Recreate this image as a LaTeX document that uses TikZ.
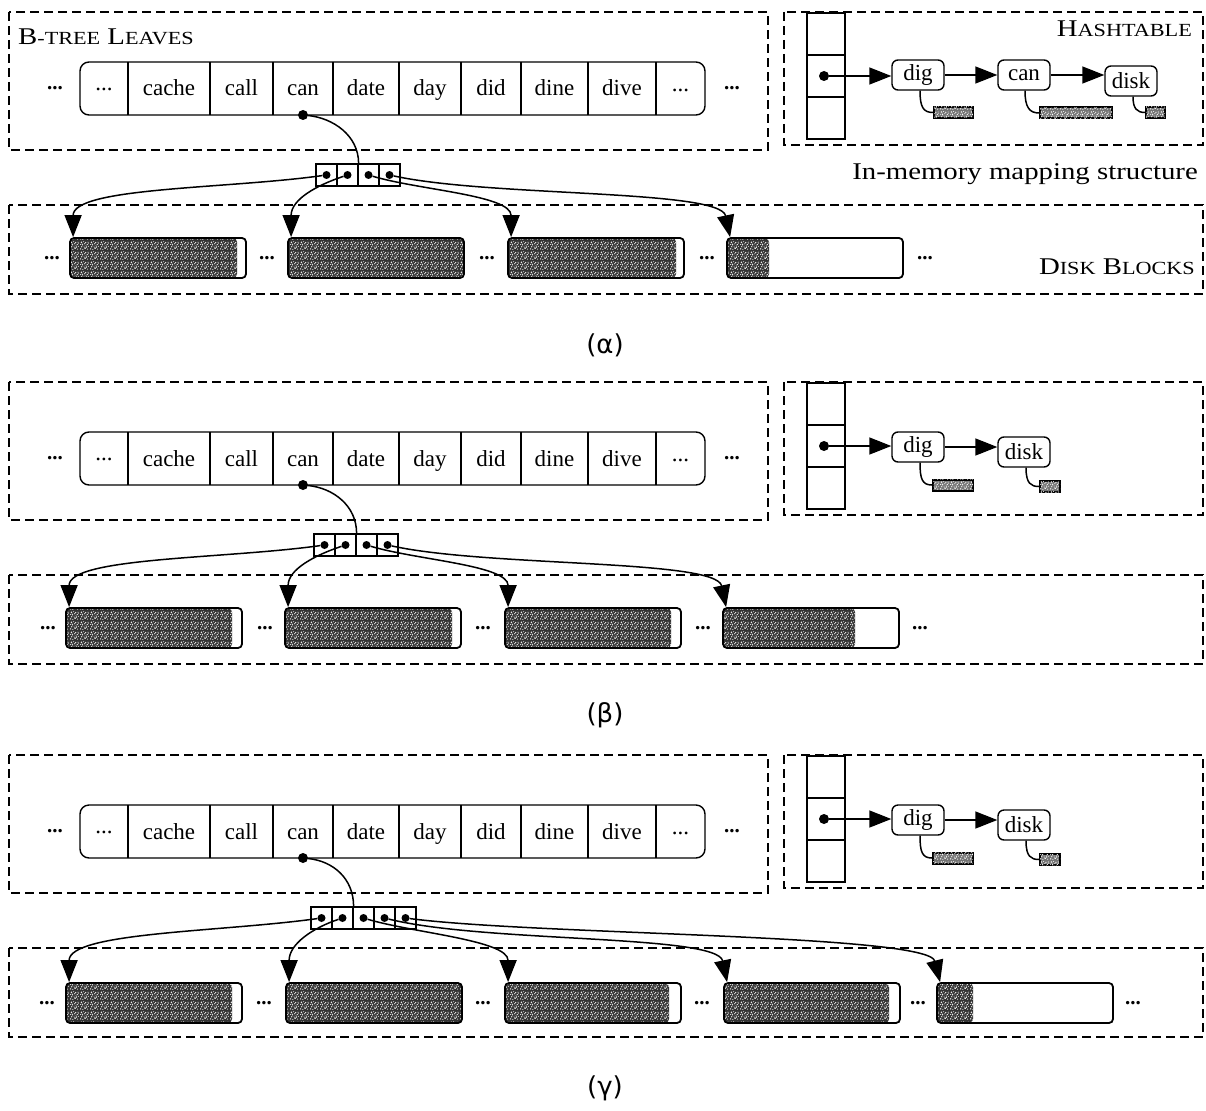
\documentclass[tikz,border=0pt]{standalone}
\usepackage{fontspec}
\setmainfont{Liberation Serif}
\newfontfamily\widefont{Liberation Serif}[FakeStretch=1.2]
\newfontfamily\captfont{DejaVu Sans}
\usetikzlibrary{arrows.meta,patterns}

% speckle texture for the written parts of a block
\newcommand{\gr}[3]{\pgfpathcircle{\pgfqpoint{#1pt}{#2pt}}{#3pt}}
\pgfdeclarepatternformonly{grain}{\pgfpointorigin}{\pgfqpoint{10pt}{10pt}}{\pgfqpoint{10pt}{10pt}}{%
  \gr{0.8}{1.2}{0.7}\gr{3.1}{0.5}{0.6}\gr{5.6}{1.8}{0.8}\gr{8.2}{0.9}{0.6}
  \gr{1.9}{3.4}{0.7}\gr{4.4}{4.1}{0.5}\gr{7.0}{3.2}{0.8}\gr{9.2}{4.0}{0.5}
  \gr{0.7}{6.0}{0.6}\gr{2.8}{5.6}{0.8}\gr{5.2}{6.7}{0.6}\gr{7.9}{5.9}{0.7}
  \gr{1.5}{8.4}{0.8}\gr{3.9}{8.9}{0.5}\gr{6.3}{8.1}{0.7}\gr{8.8}{8.4}{0.6}
  \gr{4.6}{2.4}{0.4}\gr{6.6}{4.9}{0.4}\gr{2.3}{7.2}{0.4}\gr{9.3}{6.8}{0.4}
  \pgfusepath{fill}}

\newcommand{\fsc}[1]{{\fontsize{18.5}{20}\selectfont #1}}
\newcommand{\wordfont}{\fontsize{23}{26}\selectfont}

\tikzset{
  region/.style={draw, dash pattern=on 9pt off 5pt, line width=2.1pt},
  rowline/.style={line width=1.4pt},
  word/.style={font=\wordfont, inner sep=0pt},
  gap/.style={font=\bfseries\fontsize{21}{21}\selectfont, inner sep=0pt},
  title/.style={font=\widefont\fontsize{24}{28}\selectfont, inner sep=0pt},
  capt/.style={font=\captfont\fontsize{26}{30}\selectfont, inner sep=0pt},
  ptr/.style={draw, line width=1.2pt, minimum width=21pt, minimum height=22pt, inner sep=0pt},
  dot/.style={circle, fill, inner sep=0pt, minimum size=9pt},
  hcell/.style={draw, line width=1.4pt, minimum width=38pt, minimum height=42pt, inner sep=0pt},
  key/.style={draw, line width=1.4pt, rounded corners=6pt, font=\wordfont,
    minimum height=30pt, minimum width=52pt, inner sep=1pt},
  val/.style={draw, line width=2pt, minimum height=11pt, inner sep=0pt, fill=black!55,
    postaction={pattern=grain, pattern color=white}},
  wire/.style={line width=1.5pt},
  link/.style={wire, -{Triangle[length=22pt,width=17pt]}},
  block/.style={draw, line width=1.8pt, rounded corners=4pt, minimum width=176pt,
    minimum height=40pt, inner sep=0pt,
    path picture={
      \fill[black!80] (path picture bounding box.north west) rectangle
        ([xshift=#1]path picture bounding box.south west);
      \fill[pattern=grain, pattern color=white] (path picture bounding box.north west) rectangle
        ([xshift=#1]path picture bounding box.south west);}},
}

% boxes, leaf row and hash column common to all three panels
\newcommand{\panelframe}[1]{%
  \draw[region] (9,12) rectangle (768,150);
  \draw[region] (784,12) rectangle (1203,145);
  \draw[region] (9,205) rectangle (1203,294);
  \draw[rowline, rounded corners=9pt] (80,62) rectangle (705,115);
  \foreach \a in {128,210,273,333,399,461,521,588,656}
    \draw[rowline] (\a,62) -- (\a,115);
  \foreach \x/\w [count=\i] in {169/cache,241.5/call,303/can,366/date,430/day,491/did,554.5/dine,622/dive}
    \node[word, anchor=base] (#1-w\i) at (\x,96) {\w};
  \node[word] (#1-wl) at (104,89) {...};
  \node[word] (#1-wr) at (680.5,90) {...};
  \node[gap] (#1-gl) at (55,88) {...};
  \node[gap] (#1-gr) at (732,88) {...};
  \node[dot, minimum size=10pt] (#1-key) at (303,115) {};
  \foreach \y [count=\i] in {34,76,118}
    \node[hcell] (#1-h\i) at (826,\y) {};
  \node[dot, minimum size=10pt] (#1-hd) at (824,76) {};
}

% row of pointer cells: prefix, left x, count
\newcommand{\ptrrow}[3]{%
  \foreach \i in {1,...,#3}{
    \node[ptr] (#1-p\i) at ({#2+21*\i-10.5},175) {};
    \node[dot, minimum size=8pt] (#1-d\i) at (#1-p\i) {};
  }
  \draw[wire] (#1-key) .. controls +(30,3) and +(0,-28) .. (#1-p2.north east);
}

% dig -> disk chain of panels b and c
\newcommand{\shortchain}[1]{%
  \node[key] (#1-dig) at (918,77) {dig};
  \node[key] (#1-disk) at (1024,82) {disk};
  \draw[link] (#1-hd) -- (#1-hd -| #1-dig.west);
  \draw[link] (#1-dig.east) -- (#1-dig.east -| #1-disk.west);
  \node[val, minimum width=40pt] (#1-vdig) at (953,115) {};
  \node[val, minimum width=20pt] (#1-vdisk) at (1050,116.5) {};
  \draw[wire] ([xshift=2pt]#1-dig.south) .. controls +(0,16) and +(-10,0) .. (#1-vdig.west);
  \draw[wire] ([xshift=2pt]#1-disk.south) .. controls +(0,16) and +(-8,0) .. (#1-vdisk.west);
}

\begin{document}
\begin{tikzpicture}[x=1pt, y=-1pt]
  \useasboundingbox (0,0) rectangle (1206,1110);

  % ---- panel (alpha)
  \panelframe{a}
  \ptrrow{a}{316}{4}
  \node[title, anchor=base west] (a-tl) at (18,45) {B\fsc{-TREE} L\fsc{EAVES}};
  \node[title, anchor=base east] (a-th) at (1192,37) {H\fsc{ASHTABLE}};
  \node[title, anchor=base east] (a-tm) at (1198,179) {In-memory mapping structure};
  \node[title, anchor=base east] (a-td) at (1195,274) {D\fsc{ISK} B\fsc{LOCKS}};
  \node[key] (a-dig) at (918,75) {dig};
  \node[key] (a-can) at (1024,75) {can};
  \node[key] (a-disk) at (1131,81) {disk};
  \draw[link] (a-hd) -- (a-hd -| a-dig.west);
  \draw[link] (a-dig.east) -- (a-dig.east -| a-can.west);
  \draw[link] (a-can.east) -- (a-can.east -| a-disk.west);
  \node[val, minimum width=39pt] (a-vdig) at (953.5,112.5) {};
  \node[val, minimum width=72pt] (a-vcan) at (1076,113) {};
  \node[val, minimum width=19pt] (a-vdisk) at (1155.5,112.5) {};
  \draw[wire] ([xshift=2pt]a-dig.south) .. controls +(0,16) and +(-10,0) .. (a-vdig.west);
  \draw[wire] ([xshift=1pt]a-can.south) .. controls +(0,16) and +(-10,0) .. (a-vcan.west);
  \draw[wire] ([xshift=2pt]a-disk.south) .. controls +(0,12) and +(-8,0) .. (a-vdisk.west);
  \node[block=167pt] (a-b1) at (158,258) {};
  \node[block=176pt] (a-b2) at (376,258) {};
  \node[block=168pt] (a-b3) at (596,258) {};
  \node[block=42pt] (a-b4) at (815,258) {};
  \foreach \x [count=\i] in {52,267,487,707,925}
    \node[gap] (a-g\i) at (\x,258) {...};
  \draw[link] (a-d1) .. controls +(-100,14) and +(0,-50) .. ([xshift=4pt]a-b1.north west);
  \draw[link] (a-d2) .. controls +(-30,10) and +(0,-38) .. ([xshift=4pt]a-b2.north west);
  \draw[link] (a-d3) .. controls +(50,15) and +(0,-42) .. ([xshift=4pt]a-b3.north west);
  \draw[link] (a-d4) .. controls +(100,22) and +(-10,-48) .. ([xshift=4pt]a-b4.north west);
  \node[capt] (a-cap) at (605,345) {(α)};

  % ---- panel (beta)
  \begin{scope}[shift={(0,370)}]
    \panelframe{b}
    \ptrrow{b}{314}{4}
    \shortchain{b}
    \node[block=166pt] (b-b1) at (154,258) {};
    \node[block=167pt] (b-b2) at (373,258) {};
    \node[block=166pt] (b-b3) at (593,258) {};
    \node[block=132pt] (b-b4) at (811,258) {};
    \foreach \x [count=\i] in {48,265,483,703,920}
      \node[gap] (b-g\i) at (\x,258) {...};
    \draw[link] (b-d1) .. controls +(-100,14) and +(0,-50) .. ([xshift=4pt]b-b1.north west);
    \draw[link] (b-d2) .. controls +(-30,10) and +(0,-38) .. ([xshift=4pt]b-b2.north west);
    \draw[link] (b-d3) .. controls +(50,15) and +(0,-42) .. ([xshift=4pt]b-b3.north west);
    \draw[link] (b-d4) .. controls +(100,22) and +(-10,-48) .. ([xshift=4pt]b-b4.north west);
    \node[capt] (b-cap) at (605,345) {(β)};
  \end{scope}

  % ---- panel (gamma)
  \begin{scope}[shift={(0,743)}]
    \panelframe{g}
    \ptrrow{g}{311}{5}
    \shortchain{g}
    \node[block=166pt] (g-b1) at (154,260) {};
    \node[block=176pt] (g-b2) at (374,260) {};
    \node[block=164pt] (g-b3) at (593,260) {};
    \node[block=165pt] (g-b4) at (812,260) {};
    \node[block=36pt] (g-b5) at (1025,260) {};
    \foreach \x [count=\i] in {47,264,483,702,918,1133}
      \node[gap] (g-g\i) at (\x,260) {...};
    \draw[link] (g-d1) .. controls +(-100,14) and +(0,-50) .. ([xshift=4pt]g-b1.north west);
    \draw[link] (g-d2) .. controls +(-30,10) and +(0,-38) .. ([xshift=4pt]g-b2.north west);
    \draw[link] (g-d3) .. controls +(50,15) and +(0,-42) .. ([xshift=4pt]g-b3.north west);
    \draw[link] (g-d4) .. controls +(100,25) and +(-10,-48) .. ([xshift=4pt]g-b4.north west);
    \draw[link] (g-d5) .. controls +(130,17) and +(-12,-48) .. ([xshift=4pt]g-b5.north west);
    \node[capt] (g-cap) at (605,345) {(γ)};
  \end{scope}
\end{tikzpicture}
\end{document}
